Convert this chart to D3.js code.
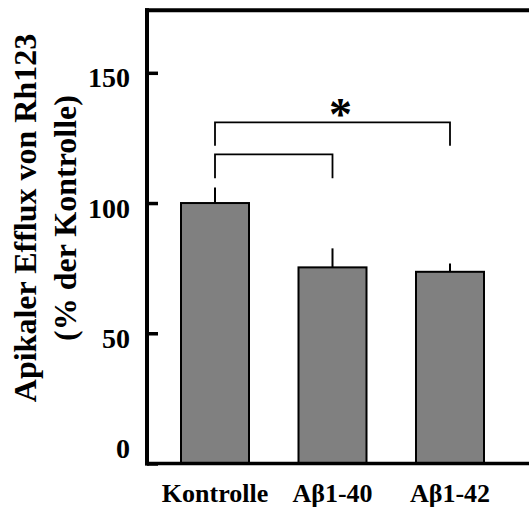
<!DOCTYPE html>
<html>
<head>
<meta charset="utf-8">
<script src="https://cdn.jsdelivr.net/npm/d3@7"></script>
<style>
  html, body { margin: 0; padding: 0; background: #fff; }
  svg { display: block; }
  text { font-family: "Liberation Serif", "Times New Roman", serif; font-weight: bold; fill: #000; }
</style>
</head>
<body>
<svg id="chart" width="529" height="509"></svg>
<script>
// ---- data ----
const categories = ["Kontrolle", "Aβ1-40", "Aβ1-42"];
const values = [100, 75.3, 73.6];
const errors = [6, 7.3, 3.2];
const yTicks = [0, 50, 100, 150];
const yTitleLines = ["Apikaler Efflux von Rh123", "(% der Kontrolle)"];
// significance brackets
const bracketFrom = [0, 0];
const bracketTo = [1, 2];
const bracketLevel = [118.7, 131];
const bracketLegLeft = [109.5, 122];
const bracketLegRight = [109.5, 122];
const bracketLabel = ["", "*"];

// ---- layout ----
const svg = d3.select("#chart");
const mLeft = 147, mTop = 10.3, mBottom = 463.5, mRight = 529;
const barWidth = 68;

const x = d3.scalePoint().domain(categories).range([215, 450]);
const y = d3.scaleLinear().domain([0, 174]).range([mBottom, mTop]);

// bars
svg.append("g").selectAll("rect")
  .data(categories)
  .join("rect")
  .attr("x", d => x(d) - barWidth / 2)
  .attr("y", (d, i) => y(values[i]))
  .attr("width", barWidth)
  .attr("height", (d, i) => y(0) - y(values[i]))
  .attr("fill", "#808080")
  .attr("stroke", "#000")
  .attr("stroke-width", 2);

// error bars (upper only)
svg.append("g").selectAll("line")
  .data(categories)
  .join("line")
  .attr("x1", d => x(d)).attr("x2", d => x(d))
  .attr("y1", (d, i) => y(values[i]))
  .attr("y2", (d, i) => y(values[i] + errors[i]))
  .attr("stroke", "#000")
  .attr("stroke-width", 2);

// y axis
const yAxis = d3.axisLeft(y).tickValues(yTicks).tickSize(-11).tickPadding(17).tickFormat(d3.format("d"));
const gy = svg.append("g").attr("transform", `translate(${mLeft},0)`).call(yAxis);
gy.select(".domain").remove();
gy.selectAll(".tick line").attr("stroke", "#000").attr("stroke-width", 3.5);
gy.selectAll(".tick text")
  .style("font-size", "28px")
  .attr("dy", d => d === 0 ? "-0.2em" : "0.5em");

// frame: left axis, top, bottom
svg.append("line").attr("x1", mLeft).attr("x2", mLeft).attr("y1", mTop - 2).attr("y2", mBottom + 2)
  .attr("stroke", "#000").attr("stroke-width", 4);
svg.append("line").attr("x1", mLeft - 2).attr("x2", mRight).attr("y1", mTop).attr("y2", mTop)
  .attr("stroke", "#000").attr("stroke-width", 4);
svg.append("line").attr("x1", mLeft - 2).attr("x2", mRight).attr("y1", mBottom).attr("y2", mBottom)
  .attr("stroke", "#000").attr("stroke-width", 3.5);

// x labels
svg.append("g").selectAll("text")
  .data(categories)
  .join("text")
  .attr("x", d => x(d))
  .attr("y", 502)
  .attr("text-anchor", "middle")
  .style("font-size", "26px")
  .text(d => d);

// y title
const yt = svg.append("text")
  .attr("transform", "translate(0,218) rotate(-90)")
  .attr("text-anchor", "middle")
  .style("font-size", "32px");
yt.selectAll("tspan").data(yTitleLines).join("tspan")
  .attr("x", 0)
  .attr("y", (d, i) => i === 0 ? 36 : 76)
  .text(d => d);

// brackets
const br = svg.append("g").attr("fill", "none").attr("stroke", "#000").attr("stroke-width", 1.8);
bracketFrom.forEach((f, i) => {
  const x1 = x(categories[f]), x2 = x(categories[bracketTo[i]]);
  const path = d3.path();
  path.moveTo(x1, y(bracketLegLeft[i]));
  path.lineTo(x1, y(bracketLevel[i]));
  path.lineTo(x2, y(bracketLevel[i]));
  path.lineTo(x2, y(bracketLegRight[i]));
  br.append("path").attr("d", path.toString());
  if (bracketLabel[i]) {
    svg.append("text")
      .attr("x", (x1 + x2) / 2 + 8)
      .attr("y", y(bracketLevel[i]) + 8)
      .attr("text-anchor", "middle")
      .style("font-size", "46px")
      .text(bracketLabel[i]);
  }
});
</script>
</body>
</html>
